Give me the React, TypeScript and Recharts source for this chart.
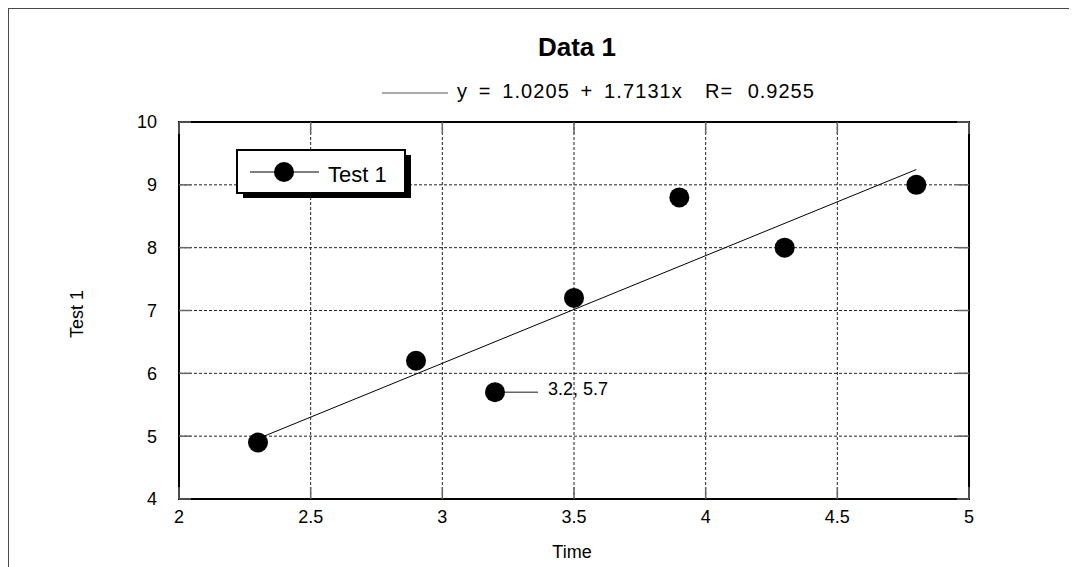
import {
  ComposedChart,
  Scatter,
  XAxis,
  YAxis,
  CartesianGrid,
  ReferenceArea
} from "recharts"

const timeValues = [2.3, 2.9, 3.2, 3.5, 3.9, 4.3, 4.8]
const test1Values = [4.9, 6.2, 5.7, 7.2, 8.8, 8.0, 9.0]
const xTicks = [2, 2.5, 3, 3.5, 4, 4.5, 5]
const yTicks = [4, 5, 6, 7, 8, 9, 10]

// linear fit shown in the header
const fitIntercept = 1.0205
const fitSlope = 1.7131
const fitR = 0.9255
const fitRange = [2.3, 4.8]

const annotated = { x: 3.2, y: 5.7 }

const points = timeValues.map((x, i) => ({ x, y: test1Values[i] }))
const fitLine = fitRange.map(x => ({ x, y: fitIntercept + fitSlope * x }))

const FONT = "'Liberation Sans', Arial, Helvetica, sans-serif"

// plot box inside the svg (from the margins below)
const PLOT = { left: 171, right: 961, top: 114, bottom: 491 }
const TICK_LEN = 12

function Dot(props: any) {
  const { cx, cy, payload } = props
  const isAnnotated = payload && payload.x === annotated.x && payload.y === annotated.y
  return (
    <g>
      <circle cx={cx} cy={cy} r={10} fill="#000" />
      {isAnnotated && (
        <g>
          <line x1={cx + 10} y1={cy} x2={cx + 43} y2={cy} stroke="#666" strokeWidth={1.5} />
          <text x={cx + 53} y={cy + 3} fontSize={18} fontFamily={FONT} fill="#000">
            {`${annotated.x}, ${annotated.y}`}
          </text>
        </g>
      )}
    </g>
  )
}

function XTick(props: any) {
  const { x, y, payload } = props
  return (
    <g>
      <line x1={x} y1={PLOT.bottom} x2={x} y2={PLOT.bottom - TICK_LEN} stroke="#666" strokeWidth={1.5} />
      <line x1={x} y1={PLOT.top} x2={x} y2={PLOT.top + TICK_LEN} stroke="#666" strokeWidth={1.5} />
      <text x={x} y={y} dy="0.71em" textAnchor="middle" fontSize={18} fontFamily={FONT} fill="#000">
        {payload.value}
      </text>
    </g>
  )
}

function YTick(props: any) {
  const { x, y, payload } = props
  return (
    <g>
      <line x1={PLOT.left} y1={y} x2={PLOT.left + TICK_LEN} y2={y} stroke="#666" strokeWidth={1.5} />
      <line x1={PLOT.right} y1={y} x2={PLOT.right - TICK_LEN} y2={y} stroke="#666" strokeWidth={1.5} />
      <text x={x} y={y} dy="0.355em" textAnchor="end" fontSize={18} fontFamily={FONT} fill="#000">
        {payload.value}
      </text>
    </g>
  )
}

export default function App() {
  return (
    <div style={{ position: "relative", width: 1069, height: 559 }}>
      <ComposedChart
        width={1069}
        height={559}
        margin={{ top: 114, right: 108, bottom: 28, left: 111 }}
      >
        <CartesianGrid stroke="#222" strokeDasharray="3 2" strokeWidth={1} />
        <XAxis
          dataKey="x"
          type="number"
          domain={[2, 5]}
          ticks={xTicks}
          height={40}
          axisLine={false}
          tickLine={false}
          tickSize={0}
          tickMargin={11}
          tick={(p: any) => <XTick {...p} />}
        />
        <YAxis
          dataKey="y"
          type="number"
          domain={[4, 10]}
          ticks={yTicks}
          width={60}
          axisLine={false}
          tickLine={false}
          tickSize={0}
          tickMargin={22}
          tick={(p: any) => <YTick {...p} />}
        />
        <ReferenceArea
          x1={2}
          x2={5}
          y1={4}
          y2={10}
          fill="none"
          fillOpacity={0}
          stroke="#000"
          strokeWidth={2}
          ifOverflow="visible"
        />
        <Scatter
          name="fit"
          data={fitLine}
          dataKey="y"
          line={{ stroke: "#000", strokeWidth: 1 }}
          shape={() => <g />}
          isAnimationActive={false}
        />
        <Scatter
          name="Test 1"
          data={points}
          dataKey="y"
          shape={(p: any) => <Dot {...p} />}
          isAnimationActive={false}
        />

        <text x={569} y={48} textAnchor="middle" fontSize={26} fontWeight="bold" fontFamily={FONT}>
          Data 1
        </text>
        <line x1={374} y1={85} x2={440} y2={85} stroke="#555" strokeWidth={1} />
        <text x={449} y={90} fontSize={20} fontFamily={FONT} style={{ wordSpacing: 4, letterSpacing: 1.1 }}>
          {`y = ${fitIntercept} + ${fitSlope}x`}
        </text>
        <text x={697} y={90} fontSize={20} fontFamily={FONT} style={{ wordSpacing: 8, letterSpacing: 1 }}>
          {`R= ${fitR}`}
        </text>

        <rect x={235} y={147} width={168} height={43} fill="#000" />
        <rect x={229} y={142} width={168} height={43} fill="#fff" stroke="#000" strokeWidth={2} />
        <line x1={242} y1={164} x2={311} y2={164} stroke="#000" strokeWidth={1} />
        <circle cx={276} cy={164} r={10} fill="#000" />
        <text x={320} y={174} fontSize={22} fontFamily={FONT}>Test 1</text>

        <text x={564} y={550} textAnchor="middle" fontSize={18} fontFamily={FONT}>Time</text>
        <text
          x={69}
          y={306}
          textAnchor="middle"
          dominantBaseline="central"
          fontSize={18}
          fontFamily={FONT}
          transform="rotate(-90 69 306)"
        >
          Test 1
        </text>
      </ComposedChart>
      <div
        style={{
          position: "absolute",
          left: -1,
          top: -1,
          width: 1071,
          height: 561,
          borderLeft: "2px solid #4a4a4a",
          borderTop: "2px solid #4a4a4a",
          boxSizing: "border-box",
          pointerEvents: "none"
        }}
      />
    </div>
  )
}
